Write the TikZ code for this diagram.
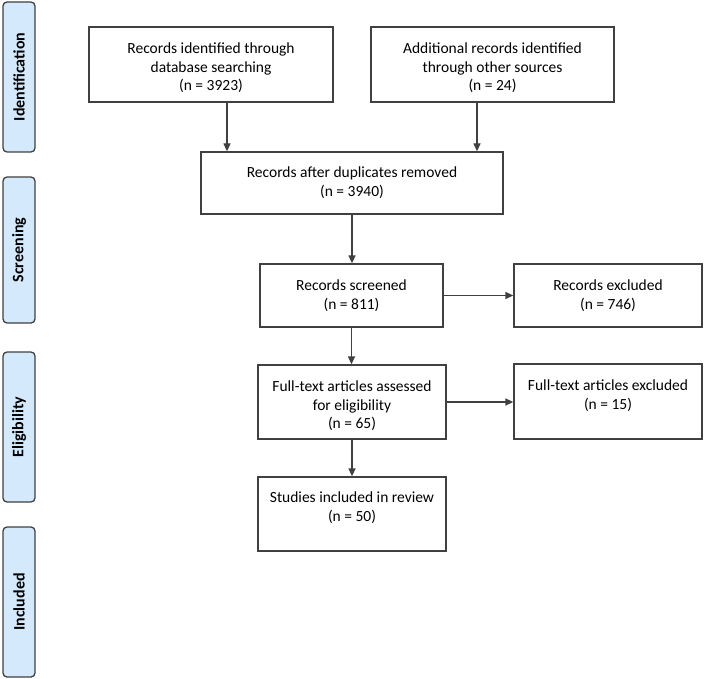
\documentclass[tikz,border=0pt]{standalone}
\usepackage{fontspec}
\setmainfont{Carlito}
\usetikzlibrary{arrows.meta}
\definecolor{stagefill}{RGB}{212,234,252}
\definecolor{edge}{RGB}{64,64,64}

\begin{document}
\begin{tikzpicture}
[x=1pt,y=-1pt,%%%%%%%%%%%%%%%%%%%%%%%%%%%%%%
box/.style={rectangle,draw=edge,line width=1.3pt,inner sep=0pt},
lbl/.style={align=center,inner sep=0pt,anchor=north,font=\fontsize{15.5}{18.7}\selectfont},
stage/.style={rectangle,rounded corners=4pt,draw=edge,line width=1.3pt,fill=stagefill,
  minimum width=32pt,inner sep=0pt,font=\fontsize{16}{19}\selectfont\bfseries},
arr/.style={draw=edge,line width=1.3pt,-{Triangle[length=8pt,width=7pt]}},
]%%%%%%%%%%%%%%%%%%%%%%%%%%%%%%
\useasboundingbox (0,0) rectangle (704,679);

% stages
\node[stage,minimum height=150pt] (ident) at (19,77){\rotatebox{90}{Identification}};
\node[stage,minimum height=146pt] (screen) at (19,250){\rotatebox{90}{Screening}};
\node[stage,minimum height=150pt] (elig) at (19,427){\rotatebox{90}{Eligibility}};
\node[stage,minimum height=150pt] (incl) at (19,602){\rotatebox{90}{Included}};

% boxes
\node[box,minimum width=244pt,minimum height=75pt] (db) at (211,64.5){};
\node[box,minimum width=243pt,minimum height=75pt] (other) at (492.5,64.5){};
\node[box,minimum width=302pt,minimum height=62pt] (dupl) at (352,183){};
\node[box,minimum width=183pt,minimum height=63pt] (scr) at (351.5,295.5){};
\node[box,minimum width=188pt,minimum height=63pt] (excl) at (608,295.5){};
\node[box,minimum width=188pt,minimum height=74pt] (full) at (352,402){};
\node[box,minimum width=188pt,minimum height=75pt] (fexcl) at (608,401.5){};
\node[box,minimum width=188pt,minimum height=74pt] (incd) at (352,514){};

% texts
\node[lbl] (dbt) at ([yshift=-16pt]db.north){Records identified through\\database searching\\(n = 3923)};
\node[lbl] (othert) at ([yshift=-16pt]other.north){Additional records identified\\through other sources\\(n = 24)};
\node[lbl] (duplt) at ([yshift=-15pt]dupl.north){Records after duplicates removed\\(n = 3940)};
\node[lbl] (scrt) at ([yshift=-16pt]scr.north){Records screened\\(n = 811)};
\node[lbl] (exclt) at ([yshift=-16pt]excl.north){Records excluded\\(n = 746)};
\node[lbl] (fullt) at ([yshift=-16pt]full.north){Full-text articles assessed\\for eligibility\\(n = 65)};
\node[lbl] (fexclt) at ([yshift=-16pt]fexcl.north){Full-text articles excluded\\(n = 15)};
\node[lbl] (incdt) at ([yshift=-15pt]incd.north){Studies included in review\\(n = 50)};

% arrows
\draw[arr] ([xshift=16pt]db.south) -- ([xshift=16pt]db.south |- dupl.north);
\draw[arr] ([xshift=-15.5pt]other.south) -- ([xshift=-15.5pt]other.south |- dupl.north);
\draw[arr] (dupl.south) -- (dupl.south |- scr.north);
\draw[arr] (scr.east) -- (excl.west);
\draw[arr] (scr.south) -- (scr.south |- full.north);
\draw[arr] (full.east) -- (full.east -| fexcl.west);
\draw[arr] (full.south) -- (incd.north);
\end{tikzpicture}
\end{document}
